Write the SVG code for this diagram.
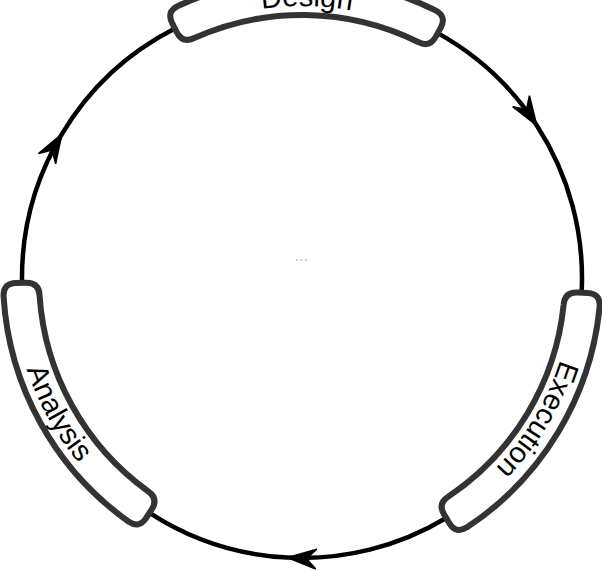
<svg xmlns="http://www.w3.org/2000/svg" width="602" height="571" viewBox="0 0 602 571">
<style>
.box{fill:#ffffff;stroke:#333333;stroke-width:6;stroke-linejoin:round}
.conn{fill:none;stroke:#000000;stroke-width:4.5}
.lbl{font-family:"Liberation Sans",Arial,sans-serif;font-size:29px;fill:#000000}
.dot{fill:#cccccc}
</style>
<defs>
<marker id="arr" markerUnits="userSpaceOnUse" orient="auto" markerWidth="40" markerHeight="30" viewBox="-34 -15 40 30" refX="0" refY="0" overflow="visible">
<path d="M0,0 L-29,-10 L-19,0 L-29,10 Z" fill="#000000" stroke="#000000" stroke-width="1.5"/>
</marker>
<path id="tpDesign" d="M170.13,40.10 A272,272 0 0 1 442.09,44.85"/>
<path id="tpExec" d="M572.96,282.73 A271,271 0 0 1 433.38,515.02"/>
<path id="tpAnal" d="M12.04,272.94 A290,290 0 0 0 152.64,526.58"/>
</defs>
<rect width="602" height="571" fill="#ffffff"/>
<g id="connectors">
<path class="conn" marker-mid="url(#arr)" d="M437.75,33.11 A280,280 0 0 1 536.83,125.50 A280,280 0 0 1 581.62,292.65"/>
<path class="conn" marker-mid="url(#arr)" d="M446.21,518.01 A280,280 0 0 1 287.34,557.62 A280,280 0 0 1 149.50,512.83"/>
<path class="conn" marker-mid="url(#arr)" d="M22.04,282.89 A280,280 0 0 1 61.99,133.79 A280,280 0 0 1 174.88,28.52"/>
</g>
<g id="design">
<path class="box" d="M177.97,5.94 A299,299 0 0 1 435.46,10.44 Q446.96,16.49 440.66,27.86 L435.81,36.60 Q429.50,47.98 417.99,41.96 A263,263 0 0 0 194.32,38.05 Q182.60,43.66 176.70,32.08 L172.16,23.17 Q166.26,11.59 177.97,5.94 Z"/>
<text class="lbl" text-anchor="middle"><textPath href="#tpDesign" startOffset="50%">Design</textPath></text>
</g>
<g id="execution">
<path class="box" d="M599.63,306.61 A299,299 0 0 1 466.99,527.36 Q456.00,534.29 449.30,523.15 L444.15,514.58 Q437.46,503.44 448.43,496.47 A263,263 0 0 0 563.64,304.72 Q564.64,291.77 577.62,292.45 L587.61,292.97 Q600.59,293.65 599.63,306.61 Z"/>
<text class="lbl" text-anchor="middle"><textPath href="#tpExec" startOffset="50%">Execution</textPath></text>
</g>
<g id="analysis">
<path class="box" d="M128.41,521.45 A299,299 0 0 1 3.56,296.21 Q3.04,283.22 16.04,282.99 L26.04,282.82 Q39.04,282.59 39.59,295.58 A263,263 0 0 0 148.03,491.22 Q158.76,498.57 151.68,509.47 L146.23,517.86 Q139.15,528.76 128.41,521.45 Z"/>
<text class="lbl" text-anchor="middle"><textPath href="#tpAnal" startOffset="50%">Analysis</textPath></text>
</g>
<g id="center-dots">
<rect class="dot" x="296" y="259" width="2" height="2"/>
<rect class="dot" x="300.5" y="259" width="2" height="2"/>
<rect class="dot" x="305" y="259" width="2" height="2"/>
</g>
</svg>
